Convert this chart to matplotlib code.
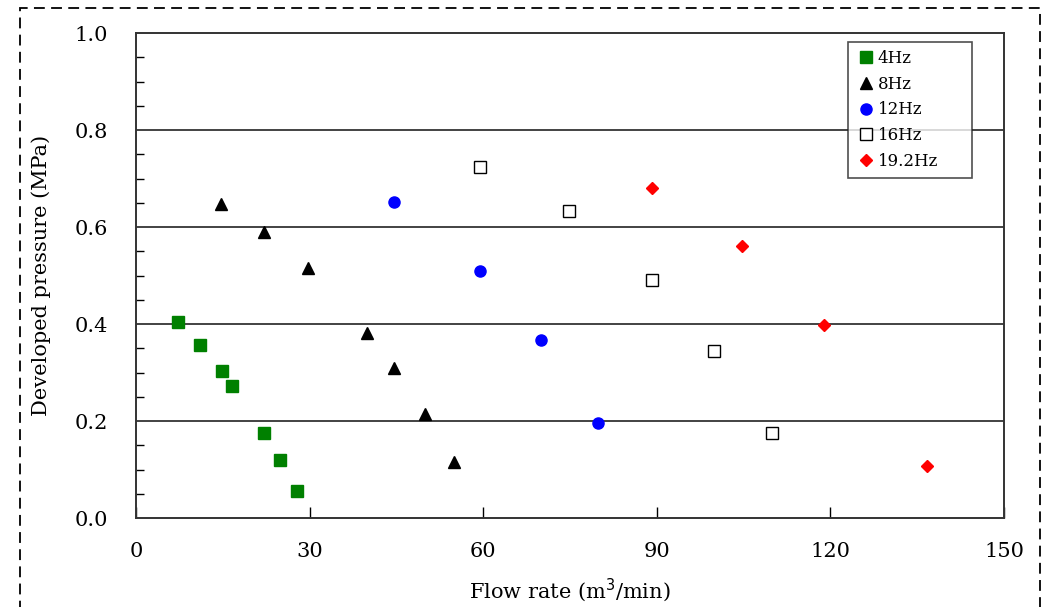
import matplotlib.pyplot as plt
from matplotlib.patches import Rectangle
from matplotlib.ticker import MultipleLocator, FormatStrFormatter

plt.rcParams['font.family'] = ['DejaVu Serif', 'Liberation Serif']

# flow rate (m3/min) and developed pressure (MPa) for each frequency
flow_4hz = [7.3, 11.1, 14.9, 16.6, 22.1, 24.9, 27.8]
pres_4hz = [0.404, 0.357, 0.303, 0.272, 0.175, 0.120, 0.056]

flow_8hz = [14.7, 22.1, 29.7, 39.9, 44.6, 49.9, 55.0]
pres_8hz = [0.647, 0.590, 0.515, 0.381, 0.309, 0.214, 0.115]

flow_12hz = [44.6, 59.4, 70.0, 79.8]
pres_12hz = [0.652, 0.509, 0.367, 0.196]

flow_16hz = [59.4, 74.8, 89.2, 99.9, 109.9]
pres_16hz = [0.724, 0.633, 0.491, 0.344, 0.175]

flow_19hz = [89.2, 104.7, 118.9, 136.7]
pres_19hz = [0.680, 0.561, 0.398, 0.107]

fig = plt.figure(figsize=(10.43, 6.07), dpi=100)
ax = fig.add_axes([0.1304, 0.1466, 0.8322, 0.799])

ax.plot(flow_4hz, pres_4hz, 's', color='green', ms=8.5, label='4Hz', linestyle='none')
ax.plot(flow_8hz, pres_8hz, '^', color='black', ms=8.5, label='8Hz', linestyle='none')
ax.plot(flow_12hz, pres_12hz, 'o', color='blue', ms=8, label='12Hz', linestyle='none')
ax.plot(flow_16hz, pres_16hz, 's', mfc='white', mec='black', mew=1, ms=8, label='16Hz', linestyle='none')
ax.plot(flow_19hz, pres_19hz, 'D', color='red', ms=6, label='19.2Hz', linestyle='none')

for y in [0.2, 0.4, 0.6, 0.8]:
    ax.axhline(y, color='#222222', lw=1.2, zorder=0)

ax.set_xlim(0, 150)
ax.set_ylim(0, 1.0)
ax.xaxis.set_major_locator(MultipleLocator(30))
ax.yaxis.set_major_locator(MultipleLocator(0.2))
ax.yaxis.set_minor_locator(MultipleLocator(0.05))
ax.yaxis.set_major_formatter(FormatStrFormatter('%.1f'))
ax.tick_params(axis='x', direction='in', length=8, width=1, labelsize=15, pad=17)
ax.tick_params(axis='y', which='major', direction='in', length=0, labelsize=15, pad=20)
ax.tick_params(axis='y', which='minor', direction='in', length=6, width=1)
ax.tick_params(top=False, right=False)
for s in ax.spines.values():
    s.set_color('#333333')
    s.set_linewidth(1.4)

ax.set_xlabel('Flow rate (m$^3$/min)', fontsize=15, labelpad=11)
ax.set_ylabel('Developed pressure (MPa)', fontsize=15, labelpad=17)

leg = ax.legend(loc='upper left', bbox_to_anchor=(0.82, 0.694, 0.143, 0.288), mode='expand',
                borderaxespad=0, fontsize=12, frameon=True, fancybox=False, handletextpad=0.1,
                handlelength=1.2, labelspacing=0.52, borderpad=0.5, edgecolor='#222222')
leg.get_frame().set_linewidth(1.2)

fig.patches.append(Rectangle((0.0192, -0.02), 0.978, 1.007, transform=fig.transFigure,
                             fill=False, ls=(0, (6, 3.5)), lw=1.3, ec='black', clip_on=False))

fig.savefig('out.png', dpi=100)
